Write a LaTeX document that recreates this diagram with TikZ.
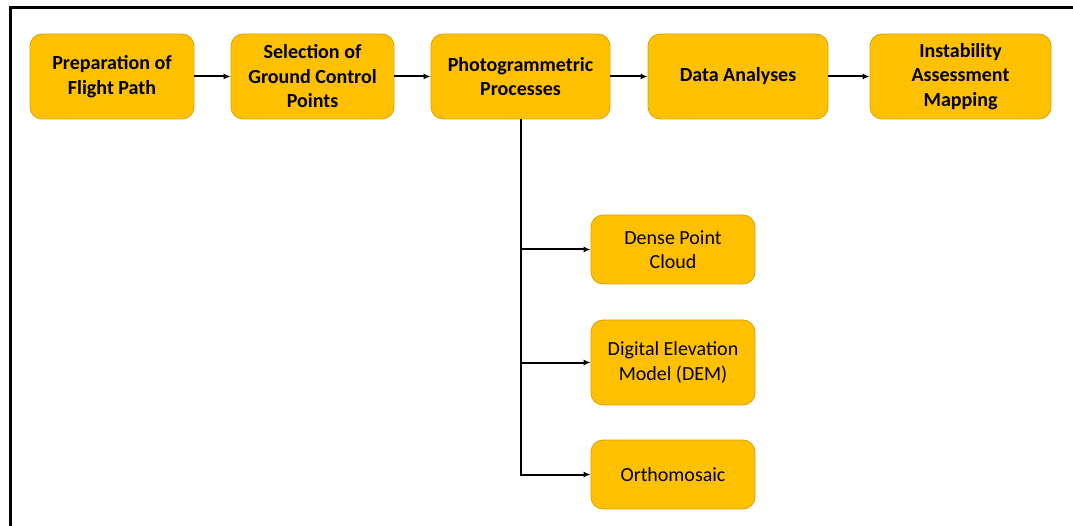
\documentclass[tikz,border=0pt]{standalone}
\usepackage{fontspec}
\setmainfont{Carlito}
\usetikzlibrary{arrows.meta}
\definecolor{boxgold}{HTML}{FFC000}
\definecolor{boxedge}{HTML}{D9A400}
\tikzset{
  stage/.style={draw=boxedge, fill=boxgold, rounded corners=12pt, line width=0.8pt,
    align=center, font=\fontsize{20}{24.5}\selectfont\bfseries, inner sep=0pt},
  product/.style={stage, font=\fontsize{20}{24.5}\selectfont},
  flow/.style={-{Latex[length=7pt,width=6pt]}, line width=2pt}
}
\begin{document}
\begin{tikzpicture}[x=1pt, y=-1pt]
   \useasboundingbox (0,0) rectangle (1073,526);
   \draw[line width=3pt] (10,530) -- (10,8) -- (1080,8);
   \node[stage, minimum width=164pt, minimum height=85pt] (prep) at (112,76.5) {Preparation of\\Flight Path};
   \node[stage, minimum width=163pt, minimum height=85pt] (gcp) at (312.5,76.5) {Selection of\\Ground Control\\Points};
   \node[stage, minimum width=179pt, minimum height=85pt] (photo) at (520.5,76.5) {Photogrammetric\\Processes};
   \node[stage, minimum width=180pt, minimum height=85pt] (data) at (738,76.5) {Data Analyses};
   \node[stage, minimum width=181pt, minimum height=85pt] (map) at (960.5,76.5) {Instability\\Assessment\\Mapping};
   \node[product, minimum width=164pt, minimum height=69pt] (cloud) at (673,249.5) {Dense Point\\Cloud};
   \node[product, minimum width=164pt, minimum height=85pt] (dem) at (673,362.5) {Digital Elevation\\Model (DEM)};
   \node[product, minimum width=164pt, minimum height=69pt] (ortho) at (673,474.5) {Orthomosaic};
   \draw[flow] (prep) -- (gcp);
   \draw[flow] (gcp) -- (photo);
   \draw[flow] (photo) -- (data);
   \draw[flow] (data) -- (map);
   \draw[flow] (photo.south) |- (ortho.west);
   \draw[flow] (photo.south |- cloud.west) -- (cloud.west);
   \draw[flow] (photo.south |- dem.west) -- (dem.west);
\end{tikzpicture}
\end{document}
